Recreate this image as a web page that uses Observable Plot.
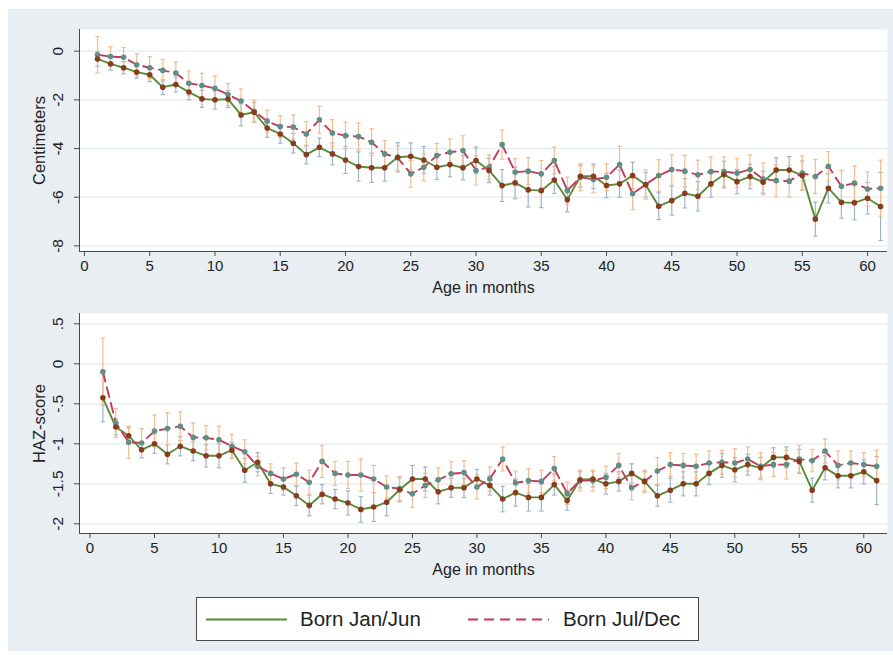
<!DOCTYPE html>
<html>
<head>
<meta charset="utf-8">
<script src="https://cdn.jsdelivr.net/npm/d3@7"></script>
<script src="https://cdn.jsdelivr.net/npm/@observablehq/plot@0.6"></script>
<style>
  html, body { margin: 0; padding: 0; background: #ffffff; }
  #bg { position: absolute; left: 8px; top: 9px; width: 885px; height: 642px; background: #e8eef2; }
  .panel { position: absolute; left: 0; }
  #legend { position: absolute; left: 196px; top: 597px; width: 503px; height: 44px; background: #fff; border: 1px solid #4a4a4a; box-sizing: border-box; font-family: "Liberation Sans", Arial, sans-serif; font-size: 20.5px; color: #222; }
  #legend span { position: absolute; top: 9px; line-height: 24px; }
</style>
</head>
<body>
<div id="bg"></div>
<div id="top" class="panel" style="top:0px"></div>
<div id="bottom" class="panel" style="top:300px"></div>
<div id="legend">
  <svg width="503" height="44" style="position:absolute;left:0;top:0">
    <line x1="9" x2="90" y1="21.5" y2="21.5" stroke="#5b8a3a" stroke-width="1.8"/>
    <line x1="271" x2="352" y1="21.5" y2="21.5" stroke="#c23b5a" stroke-width="1.8" stroke-dasharray="10,6"/>
  </svg>
  <span style="left:103px">Born Jan/Jun</span>
  <span style="left:366px">Born Jul/Dec</span>
</div>
<script>
// ---- Data ----
const months = d3.range(1, 62);
const seriesNames = ["Born Jan/Jun", "Born Jul/Dec"];

// Top panel: Centimeters
const cmJan = [-0.32,-0.52,-0.68,-0.86,-0.97,-1.48,-1.37,-1.68,-1.96,-2.00,-1.97,-2.62,-2.51,-3.16,-3.40,-3.78,-4.25,-3.95,-4.22,-4.47,-4.74,-4.79,-4.79,-4.36,-4.32,-4.47,-4.77,-4.66,-4.79,-4.49,-4.90,-5.52,-5.41,-5.70,-5.73,-5.29,-6.10,-5.14,-5.14,-5.52,-5.45,-5.11,-5.49,-6.37,-6.14,-5.84,-5.96,-5.45,-5.07,-5.36,-5.15,-5.38,-4.88,-4.88,-5.11,-6.90,-5.63,-6.21,-6.23,-6.04,-6.38];
const cmJul = [-0.15,-0.22,-0.25,-0.56,-0.68,-0.79,-0.90,-1.32,-1.41,-1.53,-1.78,-2.05,-2.47,-2.88,-3.10,-3.12,-3.40,-2.82,-3.36,-3.47,-3.51,-3.74,-4.22,-4.38,-5.04,-4.77,-4.29,-4.15,-4.08,-4.90,-4.77,-3.84,-4.97,-4.93,-5.04,-4.49,-5.73,-5.18,-5.27,-5.18,-4.66,-5.86,-5.48,-5.11,-4.86,-4.93,-5.08,-4.95,-4.95,-5.01,-4.86,-5.25,-5.32,-5.34,-5.01,-5.15,-4.73,-5.55,-5.42,-5.66,-5.63];
const cmJanCI = [0.30,0.25,0.25,0.25,0.28,0.30,0.30,0.32,0.35,0.38,0.35,0.45,0.40,0.38,0.38,0.40,0.38,0.38,0.45,0.55,0.60,0.60,0.55,0.60,0.55,0.55,0.50,0.50,0.50,0.55,0.50,0.65,0.65,0.70,0.70,0.55,0.50,0.45,0.50,0.50,0.55,0.55,0.50,0.55,0.60,0.60,0.60,0.55,0.55,0.50,0.50,0.45,0.50,0.55,0.60,0.70,0.60,0.65,0.70,0.65,1.40];
const cmJulCI = [0.75,0.40,0.40,0.45,0.45,0.45,0.45,0.50,0.50,0.50,0.45,0.50,0.45,0.45,0.45,0.50,0.50,0.55,0.55,0.55,0.55,0.55,0.55,0.50,0.55,0.55,0.50,0.55,0.60,0.60,0.50,0.60,0.55,0.55,0.55,0.55,0.55,0.55,0.55,0.55,0.75,0.65,0.60,0.65,0.60,0.65,0.60,0.60,0.60,0.60,0.60,0.65,0.65,0.65,0.70,0.70,0.60,0.65,0.70,0.70,1.15];

// Bottom panel: HAZ-score
const hazJan = [-0.425,-0.79,-0.90,-1.075,-1.00,-1.13,-1.03,-1.09,-1.15,-1.15,-1.08,-1.33,-1.23,-1.50,-1.54,-1.65,-1.77,-1.63,-1.69,-1.74,-1.82,-1.79,-1.73,-1.575,-1.44,-1.44,-1.60,-1.55,-1.55,-1.44,-1.52,-1.69,-1.61,-1.67,-1.67,-1.51,-1.71,-1.45,-1.44,-1.50,-1.47,-1.37,-1.47,-1.65,-1.58,-1.50,-1.50,-1.37,-1.27,-1.325,-1.26,-1.30,-1.17,-1.17,-1.22,-1.58,-1.30,-1.40,-1.40,-1.35,-1.46];
const hazJul = [-0.10,-0.74,-0.98,-0.99,-0.84,-0.81,-0.78,-0.92,-0.925,-0.95,-1.03,-1.10,-1.28,-1.37,-1.44,-1.38,-1.48,-1.22,-1.37,-1.39,-1.39,-1.44,-1.54,-1.56,-1.625,-1.52,-1.45,-1.375,-1.36,-1.54,-1.44,-1.19,-1.49,-1.46,-1.47,-1.31,-1.62,-1.46,-1.46,-1.42,-1.27,-1.55,-1.47,-1.34,-1.26,-1.27,-1.28,-1.24,-1.23,-1.24,-1.19,-1.28,-1.26,-1.26,-1.19,-1.21,-1.09,-1.27,-1.24,-1.26,-1.28];
const hazJanCI = [0.30,0.10,0.10,0.10,0.12,0.12,0.12,0.12,0.14,0.15,0.10,0.15,0.12,0.12,0.10,0.12,0.13,0.12,0.12,0.15,0.16,0.18,0.17,0.15,0.17,0.15,0.15,0.12,0.12,0.12,0.12,0.16,0.17,0.17,0.17,0.13,0.12,0.10,0.10,0.13,0.12,0.12,0.12,0.13,0.15,0.15,0.15,0.14,0.15,0.15,0.13,0.13,0.12,0.13,0.15,0.15,0.15,0.15,0.15,0.15,0.30];
const hazJulCI = [0.42,0.18,0.20,0.18,0.20,0.20,0.18,0.18,0.15,0.17,0.15,0.15,0.12,0.12,0.14,0.14,0.15,0.20,0.15,0.17,0.20,0.17,0.14,0.15,0.17,0.15,0.15,0.15,0.15,0.15,0.15,0.15,0.15,0.15,0.14,0.15,0.14,0.13,0.13,0.14,0.15,0.15,0.14,0.17,0.15,0.15,0.15,0.15,0.15,0.18,0.15,0.17,0.15,0.18,0.17,0.14,0.15,0.18,0.15,0.15,0.20];

const xTicks = d3.range(0, 61, 5);
const cmTicks = [0, -2, -4, -6, -8];
const hazTicks = [0.5, 0, -0.5, -1, -1.5, -2];
const hazTickLabels = [".5", "0", "-.5", "-1", "-1.5", "-2"];

// ---- Styles ----
const GREEN = "#5b8a3a", RED = "#c23b5a", BROWN = "#8a3b1b", TEAL = "#5f8f86";
const BLUEBAR = "#9fb4c9", ORANGEBAR = "#f2bd8e", AXIS = "#4a4a4a", GRID = "#e4ebf0";
const FONT = "Liberation Sans, Arial, sans-serif";

function rows(vals, ci) {
  return months.map((m, i) => ({m, v: vals[i], lo: vals[i] - ci[i], hi: vals[i] + ci[i]}));
}

function bars(data, color) {
  const cap = 0.17;
  return [
    Plot.ruleX(data, {x: "m", y1: "lo", y2: "hi", stroke: color, strokeWidth: 1.2}),
    Plot.link(data, {x1: d => d.m - cap, x2: d => d.m + cap, y1: "lo", y2: "lo", stroke: color, strokeWidth: 1.2}),
    Plot.link(data, {x1: d => d.m - cap, x2: d => d.m + cap, y1: "hi", y2: "hi", stroke: color, strokeWidth: 1.2})
  ];
}

function panel({height, marginTop, marginBottom, xDomain, yDomain, yTicks, yLabels, yTitle, jan, jul}) {
  return Plot.plot({
    width: 893, height, marginLeft: 79, marginRight: 6, marginTop, marginBottom,
    style: {fontFamily: FONT, fontSize: "15px", background: "transparent", overflow: "visible", color: "#222"},
    x: {domain: xDomain},
    y: {domain: yDomain},
    marks: [
      Plot.frame({fill: "#ffffff", stroke: null}),
      Plot.ruleY(yTicks, {stroke: GRID, strokeWidth: 1.2}),
      ...bars(jan, BLUEBAR),
      ...bars(jul, ORANGEBAR),
      Plot.line(jan, {x: "m", y: "v", stroke: GREEN, strokeWidth: 1.9}),
      Plot.line(jul, {x: "m", y: "v", stroke: RED, strokeWidth: 1.9, strokeDasharray: "10,6"}),
      Plot.dot(jul, {x: "m", y: "v", r: 2.8, fill: TEAL, stroke: null}),
      Plot.dot(jan, {x: "m", y: "v", r: 2.8, fill: BROWN, stroke: null}),
      Plot.axisX({ticks: xTicks, tickSize: 5, tickPadding: 4, fontSize: 15, label: null, stroke: AXIS}),
      Plot.axisY({ticks: yTicks, tickSize: 5, tickFormat: () => "", label: null, stroke: AXIS}),
      Plot.text(yTicks, {y: d => d, text: (d, i) => yLabels[i], frameAnchor: "left", textAnchor: "middle", dx: -21, rotate: -90, fontSize: 15.5, fill: "#222"}),
      Plot.ruleX([xDomain[0]], {stroke: AXIS, strokeWidth: 1}),
      Plot.ruleY([yDomain[0]], {stroke: AXIS, strokeWidth: 1}),
      Plot.text(["Age in months"], {frameAnchor: "bottom", textAnchor: "middle", dy: 41, fontSize: 16, fill: "#222"}),
      Plot.text([yTitle], {frameAnchor: "left", textAnchor: "middle", dx: -40, rotate: -90, fontSize: 16.5, fill: "#222"})
    ]
  });
}

document.getElementById("top").appendChild(panel({
  height: 300, marginTop: 29, marginBottom: 49,
  xDomain: [-0.38, 61.53], yDomain: [-8.23, 0.89],
  yTicks: cmTicks, yLabels: cmTicks.map(String), yTitle: "Centimeters",
  jan: rows(cmJan, cmJanCI), jul: rows(cmJul, cmJulCI)
}));

document.getElementById("bottom").appendChild(panel({
  height: 285, marginTop: 13, marginBottom: 52,
  xDomain: [-0.815, 61.84], yDomain: [-2.121, 0.629],
  yTicks: hazTicks, yLabels: hazTickLabels, yTitle: "HAZ-score",
  jan: rows(hazJan, hazJanCI), jul: rows(hazJul, hazJulCI)
}));
</script>
</body>
</html>
